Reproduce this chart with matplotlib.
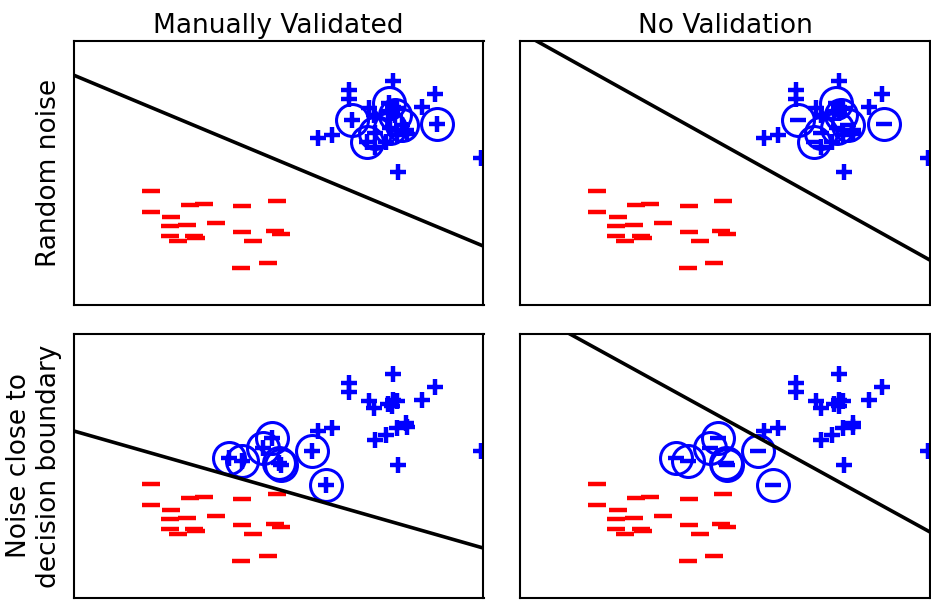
import numpy as np
import matplotlib.pyplot as plt

# negative class (red "_")
neg_x = [1.89, 2.84, 3.18, 4.11, 4.96, 1.89, 2.38, 2.35, 2.77, 3.48,
         2.35, 2.55, 2.94, 2.99, 4.11, 4.38, 4.91, 5.06, 4.74, 4.09]
neg_y = [4.32, 3.79, 3.83, 3.75, 3.94, 3.52, 3.33, 2.99, 3.03, 3.11,
         2.61, 2.42, 2.61, 2.54, 2.77, 2.42, 2.80, 2.69, 1.59, 1.40]

# positive class (blue "+")
pos_x = [7.79, 6.72, 6.72, 8.82, 8.50, 7.21, 7.33, 7.67, 7.79, 7.89,
         7.77, 6.30, 5.96, 7.35, 7.62, 7.89, 8.11, 8.13, 7.91, 9.94]
pos_y = [8.48, 8.14, 7.80, 7.99, 7.50, 7.46, 7.20, 7.35, 7.50, 7.46,
         7.27, 6.44, 6.33, 5.98, 6.17, 6.44, 6.63, 6.48, 5.04, 5.57]

# positive points that got a wrong label
rand_noise_x = [6.79, 7.70, 8.87, 7.16, 8.01, 7.35, 7.84, 7.72]
rand_noise_y = [7.01, 7.65, 6.86, 6.17, 6.82, 6.52, 7.20, 6.70]
bound_noise_x = [3.80, 4.10, 4.63, 4.83, 5.02, 5.06, 5.81, 6.16]
bound_noise_y = [5.30, 5.18, 5.68, 6.06, 5.11, 5.05, 5.56, 4.29]

# decision boundary y = a + b*x  (rows: random, boundary; cols: validated, none)
line_a = [[8.71, 10.35], [6.33, 11.04]]
line_b = [[-0.648, -0.865], [-0.444, -0.854]]

row_labels = ["Random noise", "Noise close to\ndecision boundary"]
col_titles = ["Manually Validated", "No Validation"]
noise = [(rand_noise_x, rand_noise_y), (bound_noise_x, bound_noise_y)]

fig = plt.figure(figsize=(9.31, 6.01), dpi=100)
W, H = 931, 601
lefts = [73.5, 520]
tops = [41, 334]

for r in range(2):
    for c in range(2):
        ax = fig.add_axes([lefts[c] / W, (H - tops[r] - 264) / H, 410 / W, 264 / H])
        ax.plot(neg_x, neg_y, ls="none", marker="_", color="red", ms=13, mew=3.2)
        ax.plot(pos_x, pos_y, ls="none", marker="+", color="blue", ms=12, mew=3.2)
        nx, ny = noise[r]
        inner = "+" if c == 0 else "_"
        ax.plot(nx, ny, ls="none", marker=inner, color="blue", ms=12, mew=3.2)
        ax.plot(nx, ny, ls="none", marker="o", mfc="none", mec="blue", ms=23, mew=2.2)
        xs = np.array([0, 10])
        ax.plot(xs, line_a[r][c] + line_b[r][c] * xs, color="black", lw=2.6)
        ax.set_xlim(0, 10)
        ax.set_ylim(0, 10)
        ax.set_xticks([])
        ax.set_yticks([])
        for s in ax.spines.values():
            s.set_linewidth(1.5)
        if r == 0:
            ax.set_title(col_titles[c], fontsize=19, pad=6)
        if c == 0:
            ax.set_ylabel(row_labels[r], fontsize=19, labelpad=8)

fig.savefig("out.png", dpi=100)
